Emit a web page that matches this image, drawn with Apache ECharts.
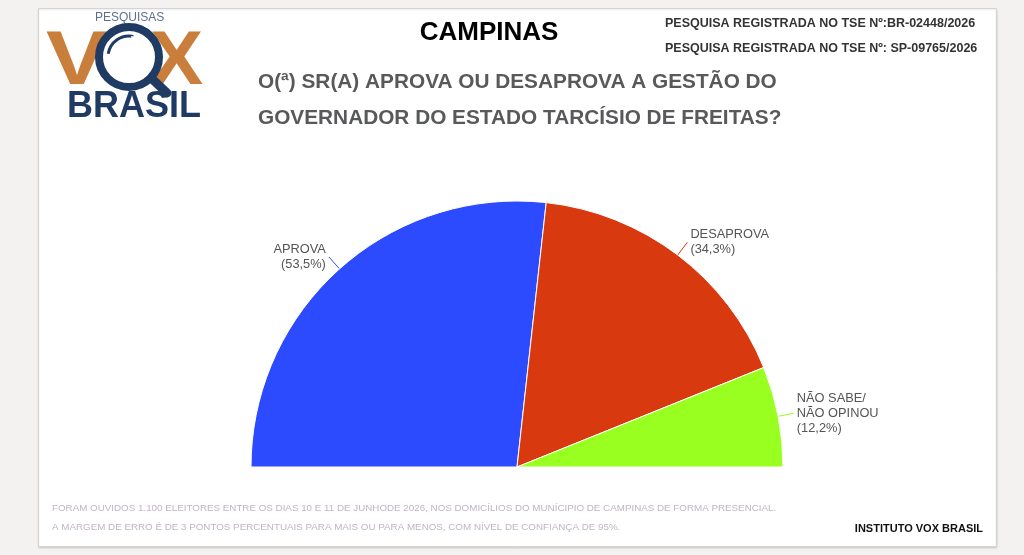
<!DOCTYPE html>
<html>
<head>
<meta charset="utf-8">
<script src="https://cdn.jsdelivr.net/npm/echarts@6/dist/echarts.min.js"></script>
<style>
html,body{margin:0;padding:0;background:#f3f2f0;}
#chart{width:1024px;height:555px;}
</style>
</head>
<body>
<div id="chart"></div>
<script>
var categories = ['APROVA', 'DESAPROVA', 'NÃO SABE/\nNÃO OPINOU'];
var values = [53.5, 34.3, 12.2];
var colors = ['#2c4bff', '#d9390f', '#99ff21'];
var titleText = 'CAMPINAS';
var questionLines = ['O(ª) SR(A) APROVA OU DESAPROVA A GESTÃO DO', 'GOVERNADOR DO ESTADO TARCÍSIO DE FREITAS?'];
var registryLines = ['PESQUISA REGISTRADA NO TSE Nº:BR-02448/2026', 'PESQUISA REGISTRADA NO TSE Nº: SP-09765/2026'];
var footnoteLines = ['FORAM OUVIDOS 1.100 ELEITORES ENTRE OS DIAS 10 E 11 DE JUNHODE 2026, NOS DOMICÍLIOS DO MUNÍCIPIO DE CAMPINAS DE FORMA PRESENCIAL.',
  'A MARGEM DE ERRO É DE 3 PONTOS PERCENTUAIS PARA MAIS OU PARA MENOS, COM NÍVEL DE CONFIANÇA DE 95%.'];
var sourceText = 'INSTITUTO VOX BRASIL';

var FONT = '"Liberation Sans", Arial, sans-serif';
var chart = echarts.init(document.getElementById('chart'));

var pieData = categories.map(function (c, i) {
  return { name: c, value: values[i], itemStyle: { color: colors[i] } };
});

var option = {
  backgroundColor: '#f3f2f0',
  animation: false,
  graphic: [
    { type: 'rect', z: -10, shape: { x: 38.5, y: 8.5, width: 958, height: 538 },
      style: { fill: '#ffffff', stroke: '#d4d4d4', lineWidth: 1, shadowBlur: 2, shadowColor: 'rgba(0,0,0,0.12)', shadowOffsetY: 1 } },
    // logo
    { type: 'text', left: 95, top: 12, style: { text: 'PESQUISAS', font: '12px ' + FONT, fill: '#5d6f8f' } },
    { type: 'text', x: 46, y: 25, scaleX: 1.22, style: { text: 'V', font: 'bold 76px ' + FONT, fill: '#c97e3b' } },
    { type: 'text', x: 150, y: 25, scaleX: 1.05, style: { text: 'X', font: 'bold 76px ' + FONT, fill: '#c97e3b' } },
    { type: 'line', shape: { x1: 150, y1: 77, x2: 167, y2: 93 }, style: { stroke: '#1f3a63', lineWidth: 9, lineCap: 'round' } },
    { type: 'circle', shape: { cx: 129, cy: 57, r: 30 }, style: { fill: '#ffffff', stroke: '#1f3a63', lineWidth: 8 } },
    { type: 'arc', shape: { cx: 129, cy: 57, r: 21, startAngle: Math.PI * 1.05, endAngle: Math.PI * 1.55 }, style: { stroke: '#1f3a63', lineWidth: 3, fill: null } },
    { type: 'text', left: 67, top: 89, style: { text: 'BRASIL', font: 'bold 36px ' + FONT, fill: '#1f3a63' } },
    // headings
    { type: 'text', x: 489, y: 33, style: { text: titleText, font: 'bold 26px ' + FONT, fill: '#000000', textAlign: 'center', textVerticalAlign: 'middle' } },
    { type: 'text', x: 258, y: 82, style: { text: questionLines[0], font: 'bold 20.8px ' + FONT, fill: '#58595b', textVerticalAlign: 'middle' } },
    { type: 'text', x: 258, y: 118, style: { text: questionLines[1], font: 'bold 20.8px ' + FONT, fill: '#58595b', textVerticalAlign: 'middle' } },
    { type: 'text', x: 665, y: 24, style: { text: registryLines[0], font: 'bold 12.5px ' + FONT, fill: '#333333', textVerticalAlign: 'middle' } },
    { type: 'text', x: 665, y: 49, style: { text: registryLines[1], font: 'bold 12.5px ' + FONT, fill: '#333333', textVerticalAlign: 'middle' } },
    { type: 'text', x: 52, y: 508, style: { text: footnoteLines[0], font: '9.8px ' + FONT, fill: '#c2b4c9', textVerticalAlign: 'middle' } },
    { type: 'text', x: 52, y: 527, style: { text: footnoteLines[1], font: '9.8px ' + FONT, fill: '#c2b4c9', textVerticalAlign: 'middle' } },
    { type: 'text', x: 983, y: 529, style: { text: sourceText, font: 'bold 11px ' + FONT, fill: '#111111', textAlign: 'right', textVerticalAlign: 'middle' } }
  ],
  series: [{
    type: 'pie',
    center: [517, 467],
    radius: [0, 266],
    startAngle: 180,
    endAngle: 0,
    clockwise: true,
    avoidLabelOverlap: false,
    itemStyle: { borderColor: '#ffffff', borderWidth: 1 },
    label: {
      show: true,
      position: 'outside',
      color: '#555555',
      fontFamily: FONT,
      fontSize: 12.8,
      lineHeight: 15,
      distanceToLabelLine: 3,
      formatter: function (p) {
        return p.name + '\n(' + p.value.toFixed(1).replace('.', ',') + '%)';
      }
    },
    labelLine: { show: true, length: 16, length2: 0, lineStyle: { width: 1 } },
    data: pieData
  }]
};
chart.setOption(option);
</script>
</body>
</html>
